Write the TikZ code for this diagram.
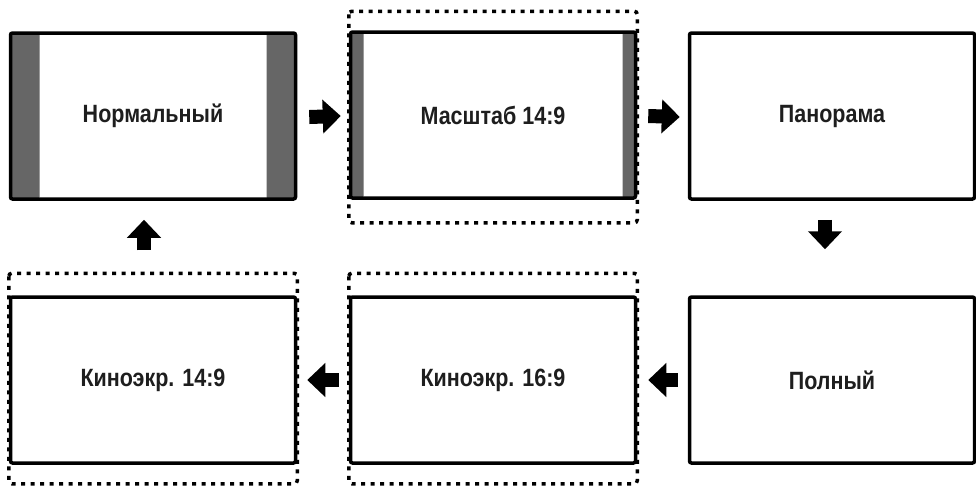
\documentclass[tikz,border=0pt]{standalone}
\usepackage{fontspec}
\setmainfont{Liberation Sans}
\newfontfamily\condfont[FakeStretch=0.86]{Liberation Sans}
\usetikzlibrary{arrows.meta,calc}
\definecolor{barc}{HTML}{666666}
\definecolor{txt}{HTML}{1E1E1E}
\begin{document}
\begin{tikzpicture}[x=1pt,y=-1pt,
  screen/.style={draw=black,line width=3.5pt,rounded corners=2pt,fill=white,
    minimum width=285pt,minimum height=166pt,inner sep=0pt,
    font=\condfont\bfseries\fontsize{25}{30}\selectfont,text=txt},
  bars/.style={path picture={
    \fill[barc] (path picture bounding box.north west) rectangle ([xshift=#1]path picture bounding box.south west);
    \fill[barc] (path picture bounding box.north east) rectangle ([xshift=-#1]path picture bounding box.south east);}},
  crop/.style={draw=black,line width=3.5pt,dash pattern=on 4pt off 5.5pt,rounded corners=3pt},
  blk/.style={line width=14pt,-{Triangle[width=33pt,length=18pt]}}]
\useasboundingbox (0,0) rectangle (976,488);
% screens
\node[screen,bars=29pt] (n1) at (153,116) {Нормальный};
\node[screen,bars=13pt] (n2) at (493,115) {Масштаб 14:9};
\node[screen] (n3) at (832,116) {Панорама};
\node[screen] (n4) at (832,380) {Полный};
\node[screen] (n5) at (493,380) {Киноэкр. 16:9};
\node[screen] (n6) at (153,380) {Киноэкр. 14:9};
% crop frames
\draw[crop] ($(n2.north west)+(0,-19)$) rectangle ($(n2.south east)+(0,23)$);
\draw[crop] ($(n5.north west)+(0,-22)$) rectangle ($(n5.south east)+(0,19)$);
\draw[crop] ($(n6.north west)+(0,-22)$) rectangle ($(n6.south east)+(0,19)$);
% arrows
\draw[blk] ($(n1.east)+(12,1)$) -- ($(n2.west)+(-8,1)$);
\draw[blk] ($(n2.east)+(11,1)$) -- ($(n3.west)+(-8,1)$);
\draw[blk] ($(n3.south)+(-7,19)$) -- ($(n4.north)+(-7,-46)$);
\draw[blk] ($(n4.west)+(-10,0)$) -- ($(n5.east)+(11,0)$);
\draw[blk] ($(n5.west)+(-10,0)$) -- ($(n6.east)+(10,0)$);
\draw[blk] ($(n6.north)+(-9,-45)$) -- ($(n1.south)+(-9,19)$);
\end{tikzpicture}
\end{document}
